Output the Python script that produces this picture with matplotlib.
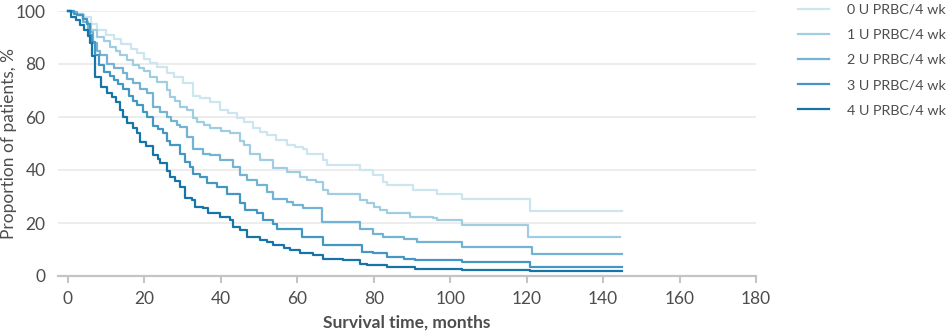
import matplotlib.pyplot as plt

plt.rcParams['font.family'] = ['Lato', 'DejaVu Sans']

# Survival time (months) at each step and proportion surviving (%) after it
labels = ["0 U PRBC/4 wk", "1 U PRBC/4 wk", "2 U PRBC/4 wk", "3 U PRBC/4 wk", "4 U PRBC/4 wk"]
colors = ["#cce5ef", "#a0cde1", "#74b3d3", "#4597c3", "#1674a6"]

t0 = [0, 1, 2.5, 4.2, 6, 7.7, 10, 12, 14, 16.4, 18, 19.9, 21.5, 23.4, 25.8, 27.7, 30.2, 32.8,
      34.6, 37.2, 39.8, 42, 44.2, 46, 48.5, 50.3, 52, 54.5, 57.2, 59.5, 61.6, 62.5, 66.8, 67.7,
      76.4, 79.9, 82.5, 83.4, 90.4, 96.5, 103, 121, 145]
s0 = [100, 99.5, 99, 97.9, 95, 92.8, 91, 89.5, 87.5, 85.5, 84, 82, 80.2, 79, 76.5, 75, 72.7, 68,
      67, 65.5, 62.6, 61.5, 59.5, 58.2, 55.7, 54.5, 53.2, 51.5, 49.4, 48.8, 48.1, 46.2, 43.7, 41.8,
      39.9, 38, 35.5, 34.3, 32.4, 30.9, 29, 24.4, 24.4]

t1 = [0, 1, 2.5, 4, 5, 6, 7.7, 9.5, 11, 12.5, 13.6, 15.5, 17.1, 18.5, 19.9, 21.5, 23.4, 25.8,
      26.7, 28, 29.3, 31.1, 32.8, 33.7, 35.5, 37.2, 40, 42.4, 45, 46, 47.6, 50.3, 53.7, 57.2,
      60.7, 62.5, 65, 66.8, 68.1, 76.4, 78.2, 80, 81.7, 83.4, 89.5, 95.6, 96.5, 103, 120.4, 144.5]
s1 = [100, 99.5, 99, 97, 95, 93, 90.3, 88.5, 86.5, 85, 83.4, 81.5, 79.6, 78.5, 77.5, 75.2, 73.3, 70.2,
      67.6, 66, 63.8, 62.6, 59.5, 58.2, 57, 56, 54.8, 53.8, 51, 49.4, 46.2, 43.7, 40.6, 39.3,
      37.4, 36.2, 35.5, 32.4, 31.1, 28.6, 27.4, 26, 24.8, 23.6, 22.3, 21.7, 21, 19.2, 14.9, 14.9]

t2 = [0, 1, 2.5, 4, 5.2, 6.5, 7.7, 8.4, 10.3, 12, 14.5, 15.5, 17.1, 18.8, 20.6, 22.3, 24, 25.8,
      27, 28.5, 29.3, 31.1, 32.8, 35.4, 37.2, 39.8, 43.3, 45, 46.8, 49.4, 52, 53.7, 57.2, 59,
      61.6, 66.4, 76.4, 79.9, 82.5, 88, 91.3, 103, 121.4, 145]
s2 = [100, 99.5, 98.5, 96, 92, 88, 85, 83.4, 80, 78.5, 76.5, 74.5, 72.7, 70.5, 68.9, 63.8, 62, 60.1,
      58.5, 56.9, 56.3, 52.5, 48.1, 46.2, 45.6, 43.7, 41.2, 38, 36.2, 34.3, 31.7, 29.2, 28, 26.7,
      25.5, 20.4, 17.9, 16, 14.7, 14.1, 12.8, 10.8, 8.2, 8.2]

t3 = [0, 1.5, 2.3, 4, 4.9, 5.8, 6.2, 7.1, 8, 9.5, 11, 12, 13.2, 14.5, 16, 17.1, 18, 19.7,
      20.6, 22.3, 23.5, 24.9, 25.8, 26.7, 29.3, 30.6, 31.9, 32.8, 34.6, 36.3, 38.9, 41.5, 45, 46.3,
      49.4, 51.1, 53.7, 54.6, 61.2, 66.8, 76.9, 79.9, 83.4, 88, 90.8, 103, 121, 145]
s3 = [100, 99, 98.4, 97, 95, 91, 88.4, 83.4, 79.6, 77, 75.5, 74, 72.5, 70.5, 68, 66, 64.5, 62,
      60, 56.5, 55.5, 54, 51, 49.6, 46.2, 43, 41.2, 38.6, 37.4, 35.2, 33.6, 31.1, 27.4, 24.8,
      23.6, 21, 19.8, 17.9, 14.7, 11.6, 9.1, 8.5, 7.2, 6.6, 5.9, 5.2, 3.4, 3.4]

t4 = [0, 0.9, 2, 3.2, 4.2, 5.35, 5.8, 6.4, 7.2, 8.6, 10.3, 11.5, 12.7, 13.6, 14.5, 15.4, 17, 18,
      18.8, 20.5, 22.3, 23.5, 24.1, 25.8, 26.7, 28, 29.3, 30.6, 32.4, 33.3, 35.4, 36.7, 39.8, 42.4,
      43.3, 45, 46.8, 50.3, 52, 53.7, 56.4, 58.1, 60.7, 64.2, 66.8, 72, 76.4, 78.2, 83.4, 90.8,
      103, 121, 145]
s4 = [100, 97.9, 96.5, 94.7, 92.8, 90.5, 88, 83, 75.2, 71.4, 68.9, 67.5, 65.7, 62.8, 60, 57.6, 56, 54,
      50.5, 48.9, 45.5, 44, 42.6, 39.5, 37.4, 35.7, 33.6, 29.5, 28.6, 26.1, 25.5, 23.6, 22.3, 21,
      18.5, 17.3, 14.7, 13.5, 12.8, 11.6, 10.4, 9.7, 8.5, 7.8, 6.6, 6.1, 4.7, 4.0, 3.4, 2.8,
      2.4, 2.0, 2.0]

times = [t0, t1, t2, t3, t4]
survs = [s0, s1, s2, s3, s4]

text_col = "#4d4d4d"

fig = plt.figure(figsize=(9.51, 3.32), dpi=100)
ax = fig.add_axes([58 / 951, 56 / 332, 698 / 951, 265 / 332])

for t, s, c, lab in zip(times, survs, colors, labels):
    ax.step(t, s, where='post', color=c, lw=1.6, label=lab, clip_on=False)

ax.set_xlim(-2.6, 180)
ax.set_ylim(0, 100)
ax.set_xticks(range(0, 181, 20))
ax.set_yticks(range(0, 101, 20))
ax.yaxis.grid(True, color="#ececec", lw=1.3)
ax.set_axisbelow(True)

for side in ["top", "right", "left"]:
    ax.spines[side].set_visible(False)
ax.spines["bottom"].set_color("#c4c4c4")
ax.spines["bottom"].set_linewidth(1.6)
ax.tick_params(axis='x', length=5, width=1.5, color="#c4c4c4", pad=6,
               labelsize=12.5, labelcolor=text_col)
ax.tick_params(axis='y', length=0, pad=9, labelsize=12.5, labelcolor=text_col)

ax.set_xlabel("Survival time, months", fontsize=12.5, fontweight='bold', color=text_col, labelpad=5)
ax.set_ylabel("Proportion of patients, %", fontsize=12.5, color=text_col)
ax.yaxis.set_label_coords(-0.0587, 0.5)

leg = fig.legend(loc='upper left', bbox_to_anchor=(785 / 951, 1.028), frameon=False,
                 fontsize=10.3, handlelength=2.17, handletextpad=1.26, labelspacing=0.92)
for txt in leg.get_texts():
    txt.set_color(text_col)

fig.savefig("out.png", dpi=100)
